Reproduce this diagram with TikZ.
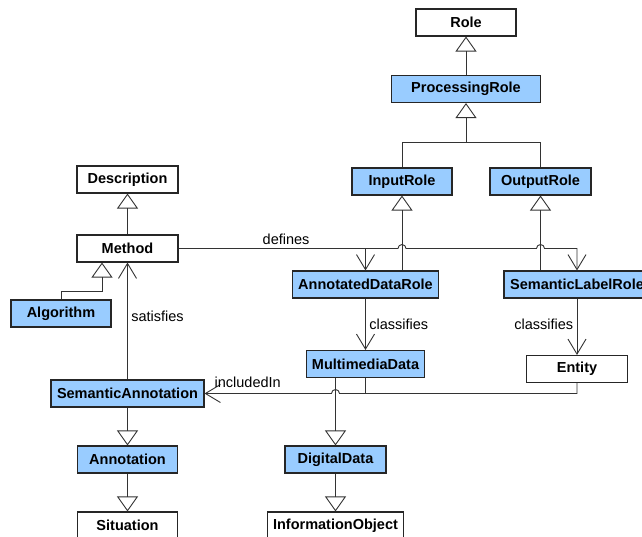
\documentclass[tikz,border=0pt]{standalone}
\usepackage{fontspec}
\setmainfont{Liberation Sans}
\usetikzlibrary{arrows.meta}
\definecolor{roleblue}{HTML}{99CCFF}
\newcommand{\umlsize}{\fontsize{14.5}{17}\selectfont}
\tikzset{
	classbox/.style={draw=black!85, line width=1.1pt, fill=white, minimum height=27pt, inner sep=0pt, font=\umlsize\bfseries},
	bluebox/.style={classbox, fill=roleblue},
	isa/.style={draw=black!80, line width=0.9pt, -{Triangle[open, length=15pt, width=21pt]}},
	assoc/.style={draw=black!80, line width=0.9pt, -{Straight Barb[length=15pt, width=18pt]}},
	plainline/.style={draw=black!80, line width=0.9pt},
	lbl/.style={font=\umlsize}
}
\begin{document}
\begin{tikzpicture}[x=1pt, y=-1pt]
		\clip (0,0) rectangle (642,537);
		
		% Define Role ProcessingRole InputRole OutputRole
		\node[classbox, minimum width=100pt] (NodeRole) at (466,22.5) {Role};
		\node[bluebox, minimum width=149pt] (NodeProcessingRole) at (466,89) {ProcessingRole};
		\node[bluebox, minimum width=100pt] (NodeInputRole) at (402,181.5) {InputRole};
		\node[bluebox, minimum width=101pt] (NodeOutputRole) at (540.5,181.5) {OutputRole};
		\coordinate (RoleFork) at (466,142);
		
		\draw[isa] (NodeProcessingRole) -- (NodeRole);
		\draw[isa] (NodeInputRole.north) |- (RoleFork) -- (NodeProcessingRole);
		\draw[plainline] (NodeOutputRole.north) |- (RoleFork);
		
		% Define Description Method Algorithm
		\node[classbox, minimum width=101pt] (NodeDescription) at (127.5,179.5) {Description};
		\node[classbox, minimum width=101pt] (NodeMethod) at (127.5,248.5) {Method};
		\node[bluebox, minimum width=100pt] (NodeAlgorithm) at (61,313.5) {Algorithm};
		\coordinate (AlgoBend) at (102,291);
		
		\draw[isa] (NodeMethod) -- (NodeDescription);
		\draw[isa] (NodeAlgorithm.north) |- (AlgoBend) -- (AlgoBend |- NodeMethod.south);
		
		% Define AnnotatedDataRole SemanticLabelRole MultimediaData Entity
		\node[bluebox, minimum width=146pt] (NodeAnnotatedDataRole) at (365.5,284.5) {AnnotatedDataRole};
		\node[bluebox, minimum width=146pt] (NodeSemanticLabelRole) at (577,284.5) {SemanticLabelRole};
		\node[bluebox, minimum width=118pt] (NodeMultimediaData) at (365.5,364) {MultimediaData};
		\node[classbox, minimum width=101pt] (NodeEntity) at (577,369) {Entity};
		
		\draw[isa] (NodeAnnotatedDataRole.north -| NodeInputRole.south) -- (NodeInputRole.south);
		\draw[isa] (NodeSemanticLabelRole.north -| NodeOutputRole.south) -- (NodeOutputRole.south);
		\draw[assoc] (NodeAnnotatedDataRole) -- node[lbl, right] {classifies} (NodeMultimediaData);
		\draw[assoc] (NodeSemanticLabelRole) -- node[lbl, left, pos=0.45] {classifies} (NodeEntity);
		
		% defines, with hops over the role lines
		\coordinate (DefHopIn) at (402,248.5);
		\coordinate (DefHopOut) at (540.5,248.5);
		\draw[assoc] (NodeMethod.east) -- node[lbl, above, pos=0.49] {defines} ([xshift=-4pt]DefHopIn)
			arc[start angle=180, end angle=0, radius=4pt] -- ([xshift=-4pt]DefHopOut)
			arc[start angle=180, end angle=0, radius=4pt] -| (NodeSemanticLabelRole.north);
		\draw[assoc] (NodeAnnotatedDataRole.north |- NodeMethod.east) -- (NodeAnnotatedDataRole.north);
		
		% Define SemanticAnnotation Annotation Situation
		\node[bluebox, minimum width=153pt] (NodeSemanticAnnotation) at (127.5,393.5) {SemanticAnnotation};
		\node[bluebox, minimum width=100pt] (NodeAnnotation) at (127.5,459.5) {Annotation};
		\node[classbox, minimum width=100pt] (NodeSituation) at (127.5,525.5) {Situation};
		
		\draw[assoc] (NodeSemanticAnnotation) -- node[lbl, right, pos=0.54] {satisfies} (NodeMethod);
		\draw[isa] (NodeSemanticAnnotation) -- (NodeAnnotation);
		\draw[isa] (NodeAnnotation) -- (NodeSituation);
		
		% Define DigitalData InformationObject
		\node[bluebox, minimum width=101pt] (NodeDigitalData) at (335.5,459.5) {DigitalData};
		\node[classbox, minimum width=136pt] (NodeInformationObject) at (335.5,525.5) {InformationObject};
		
		\draw[isa] (NodeMultimediaData.south -| NodeDigitalData.north) -- (NodeDigitalData.north);
		\draw[isa] (NodeDigitalData) -- (NodeInformationObject);
		
		% includedIn, with a hop over the data line
		\coordinate (IncHop) at (335.5,393.5);
		\draw[assoc] (NodeEntity.south) |- ([xshift=4pt]IncHop)
			arc[start angle=0, end angle=180, radius=4pt] -- node[lbl, above, pos=0.66, yshift=2pt] {includedIn} (NodeSemanticAnnotation.east);
		\draw[plainline] (NodeMultimediaData.south) -- (NodeMultimediaData.south |- IncHop);
	\end{tikzpicture}
\end{document}
